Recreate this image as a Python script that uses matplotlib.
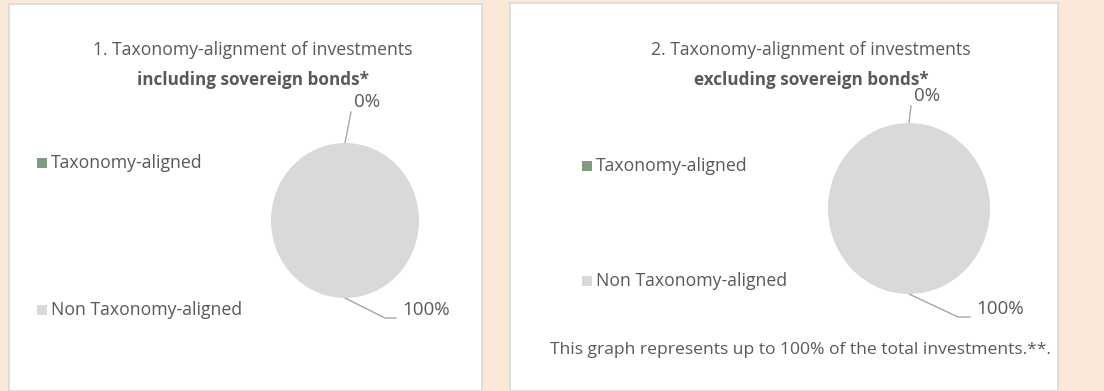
import matplotlib.pyplot as plt
from matplotlib.patches import Rectangle

# chart data
categories = ['Taxonomy-aligned', 'Non Taxonomy-aligned']
incl_values = [0, 100]
excl_values = [0, 100]
pct_labels = ['0%', '100%']
titles = ['1. Taxonomy-alignment of investments', '2. Taxonomy-alignment of investments']
subtitles = ['including sovereign bonds*', 'excluding sovereign bonds*']
footer = 'This graph represents up to 100% of the total investments.**.'

colors = ['#7F9C7F', '#D9D9D9']
txt = '#595959'
W, H = 1104, 391

plt.rcParams['font.family'] = ['Open Sans', 'DejaVu Sans']

fig = plt.figure(figsize=(W / 100, H / 100), dpi=100)
fig.patch.set_facecolor('#FAE8D8')


def fx(px):
    return px / W


def fy(py):
    return 1 - py / H


# white panels
for x0, x1, y0 in [(9, 482, 4), (510, 1058, 3)]:
    fig.patches.append(Rectangle((fx(x0), 0), fx(x1 - x0), fy(y0), transform=fig.transFigure,
                                 facecolor='white', edgecolor='#D9D9D9', lw=1.2, zorder=-5))


def panel(values, title, subtitle, tcx, pie_box, leg_x, leg_y, lab0, lab100, bend):
    l, r, t, b = pie_box
    ax = fig.add_axes([fx(l), fy(b), fx(r - l), (b - t) / H])
    ax.set_zorder(2)
    ax.patch.set_visible(False)
    ax.pie(values, colors=colors, startangle=90, counterclock=False,
           wedgeprops=dict(linewidth=0))
    ax.set_aspect('auto')
    ax.set_xlim(-1, 1)
    ax.set_ylim(-1, 1)
    fig.text(fx(tcx), fy(50), title, ha='center', va='center', fontsize=12.7, color=txt)
    fig.text(fx(tcx), fy(80), subtitle, ha='center', va='center', fontsize=12.3,
             color=txt, fontweight='bold')
    for cat, c, yy in zip(categories, colors, leg_y):
        fig.patches.append(Rectangle((fx(leg_x), fy(yy + 5)), fx(10), 10 / H,
                                     transform=fig.transFigure, facecolor=c, lw=0))
        fig.text(fx(leg_x + 14), fy(yy), cat, ha='left', va='center', fontsize=12.7, color=txt)
    # data labels with leader lines
    cx = (l + r) / 2
    lx, ly = lab0
    fig.add_artist(plt.Line2D([fx(cx), fx(lx - 16)], [fy(t), fy(ly + 10)], color='#A6A6A6', lw=1))
    fig.text(fx(lx), fy(ly), pct_labels[0], ha='center', va='center', fontsize=13.5, color=txt)
    lx, ly = lab100
    fig.add_artist(plt.Line2D([fx(cx), fx(bend), fx(lx - 30)], [fy(b), fy(ly + 8), fy(ly + 8)],
                              color='#A6A6A6', lw=1))
    fig.text(fx(lx), fy(ly), pct_labels[1], ha='center', va='center', fontsize=13.5, color=txt)


panel(incl_values, titles[0], subtitles[0], 253, (271, 419, 143, 298),
      37, (163, 310), (367, 102), (426, 310), 385)
panel(excl_values, titles[1], subtitles[1], 811, (828, 990, 123, 294),
      582, (166, 281), (927, 96), (1000, 309), 958)

fig.text(fx(550), fy(350), footer, ha='left', va='center', fontsize=12.6, color=txt)

fig.savefig('out.png', dpi=100, facecolor=fig.get_facecolor())
